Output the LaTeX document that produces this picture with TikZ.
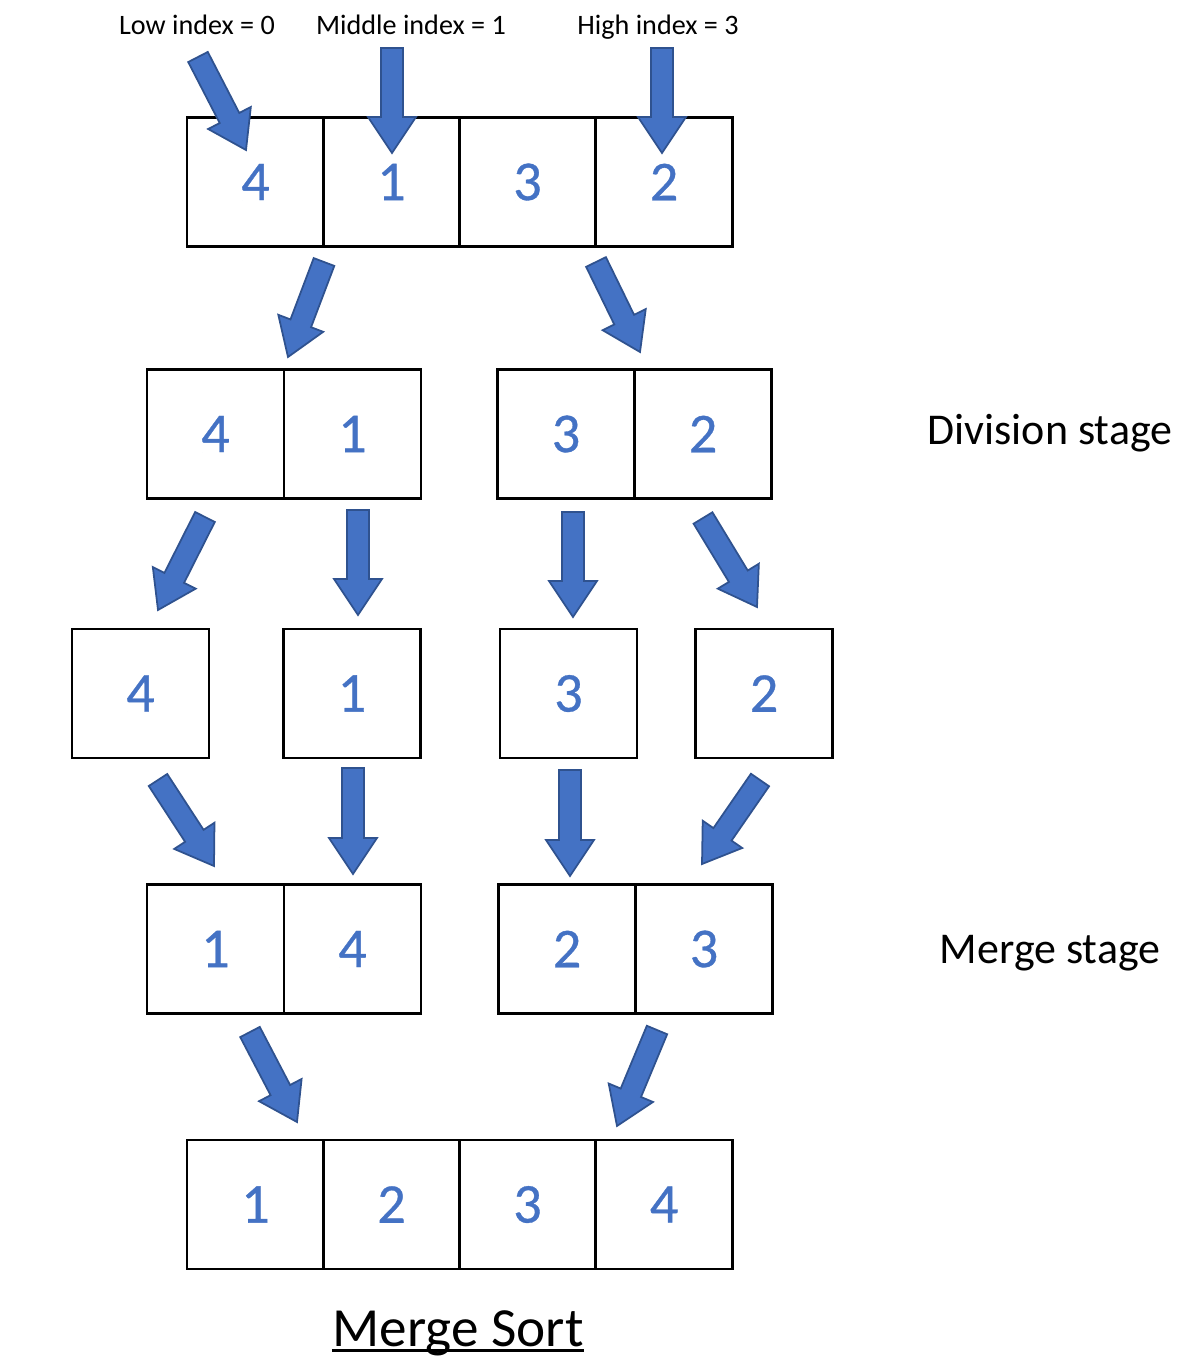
\documentclass[tikz,border=0pt]{standalone}
\usepackage{fontspec}
\setmainfont{Carlito}
\newfontface\numface{Carlito}[FakeBold=0.6]
\usetikzlibrary{calc}

\definecolor{numblue}{HTML}{4472C4}
\definecolor{arrowedge}{HTML}{2F528F}

% block arrow from tail #1 to tip #2
\newcommand{\blkarrow}[2]{%
  \coordinate (bt) at #1;
  \coordinate (bh) at #2;
  \coordinate (bb) at ($(bh)!0.36cm!(bt)$);
  \filldraw[fill=numblue, draw=arrowedge, line width=0.5pt, line join=miter]
    ($(bt)!0.11cm!90:(bh)$) -- ($(bb)!0.11cm!90:(bh)$) -- ($(bb)!0.24cm!90:(bh)$)
    -- (bh) -- ($(bb)!0.24cm!-90:(bh)$) -- ($(bb)!0.11cm!-90:(bh)$)
    -- ($(bt)!0.11cm!-90:(bh)$) -- cycle;
}

\begin{document}
\begin{tikzpicture}[x=0.01cm, y=-0.01cm,
    cell/.style={draw, line width=0.75pt, minimum width=1.37cm, minimum height=1.29cm,
      inner sep=0pt, text=numblue, font=\numface\fontsize{16}{19}\selectfont},
    toplabel/.style={anchor=base, font=\fontsize{8}{10}\selectfont},
    stagelabel/.style={anchor=base, font=\fontsize{12.5}{15}\selectfont}]
    \useasboundingbox (0,0) rectangle (1198,1370);

    \node[toplabel] (low) at (197,35) {Low index = 0};
    \node[toplabel] (mid) at (411,35) {Middle index = 1};
    \node[toplabel] (high) at (658,35) {High index = 3};

    % original array
    \node[cell] (a1) at (255.5,182) {4};
    \node[cell] (a2) at (391.5,182) {1};
    \node[cell] (a3) at (527.5,182) {3};
    \node[cell] (a4) at (664,182) {2};

    % division stage
    \node[cell] (b1) at (215.5,434) {4};
    \node[cell] (b2) at (352.5,434) {1};
    \node[cell] (b3) at (566,434) {3};
    \node[cell] (b4) at (703,434) {2};

    \node[cell] (c1) at (140.5,693.5) {4};
    \node[cell] (c2) at (352,693.5) {1};
    \node[cell] (c3) at (568.5,693.5) {3};
    \node[cell] (c4) at (764,693.5) {2};

    % merge stage
    \node[cell] (d1) at (215.5,949) {1};
    \node[cell] (d2) at (352.5,949) {4};
    \node[cell] (d3) at (567,949) {2};
    \node[cell] (d4) at (704,949) {3};

    \node[cell] (e1) at (255.5,1204.5) {1};
    \node[cell] (e2) at (391.5,1204.5) {2};
    \node[cell] (e3) at (527.5,1204.5) {3};
    \node[cell] (e4) at (664,1204.5) {4};

    \node[stagelabel] (divlbl) at (1050,445) {Division stage};
    \node[stagelabel] (mrglbl) at (1050,963) {Merge stage};

    \node[font=\fontsize{15.7}{19}\selectfont, inner sep=0pt] (title) at (458,1333) {Merge Sort};
    \draw[line width=0.9pt] ([yshift=-1.3pt]title.base west) -- ([yshift=-1.3pt]title.base east);

    % index pointers
    \blkarrow{(198,57)}{(246,150)}
    \blkarrow{(392,48)}{(392,153)}
    \blkarrow{(662,48)}{(662,153)}

    % splitting
    \blkarrow{(324,262)}{(288,357)}
    \blkarrow{(596,262)}{(640,352)}
    \blkarrow{(205,517)}{(158,610)}
    \blkarrow{(358,510)}{(358,615)}
    \blkarrow{(573,512)}{(573,617)}
    \blkarrow{(703,518)}{(757,607)}

    % merging
    \blkarrow{(158,780)}{(214,866)}
    \blkarrow{(353,768)}{(353,874)}
    \blkarrow{(570,770)}{(570,876)}
    \blkarrow{(760,780)}{(702,864)}
    \blkarrow{(250,1032)}{(297,1122)}
    \blkarrow{(657,1030)}{(617,1126)}
\end{tikzpicture}
\end{document}
